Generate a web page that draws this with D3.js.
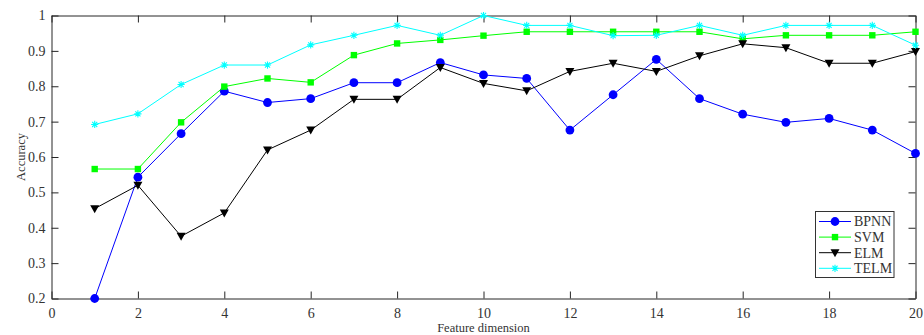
<!DOCTYPE html>
<meta charset="utf-8">
<script src="https://d3js.org/d3.v7.min.js"></script>
<style>
body { margin: 0; background: #fff; }
</style>
<div id="chart"></div>
<script>

// feature dimension
var dims = d3.range(1, 21);

// accuracy per model
var bpnn = [0.200, 0.543, 0.666, 0.786, 0.754, 0.765, 0.810, 0.810, 0.867, 0.832,
            0.822, 0.676, 0.776, 0.876, 0.765, 0.721, 0.698, 0.709, 0.676, 0.610];
var svm  = [0.566, 0.566, 0.698, 0.799, 0.822, 0.811, 0.888, 0.921, 0.931, 0.943,
            0.954, 0.954, 0.954, 0.954, 0.954, 0.934, 0.944, 0.944, 0.944, 0.954];
var elm  = [0.454, 0.520, 0.376, 0.442, 0.620, 0.676, 0.763, 0.763, 0.853, 0.808,
            0.787, 0.842, 0.865, 0.842, 0.886, 0.920, 0.909, 0.865, 0.865, 0.898];
var telm = [0.692, 0.722, 0.805, 0.860, 0.860, 0.917, 0.944, 0.972, 0.944, 1.000,
            0.972, 0.972, 0.943, 0.944, 0.972, 0.944, 0.972, 0.972, 0.972, 0.916];

var xTicks = [0, 2, 4, 6, 8, 10, 12, 14, 16, 18, 20];
var yTicks = [0.2, 0.3, 0.4, 0.5, 0.6, 0.7, 0.8, 0.9, 1];

var series = [
  {name: "BPNN", values: bpnn, color: "#0000ff", marker: "circle"},
  {name: "SVM",  values: svm,  color: "#00ff00", marker: "square"},
  {name: "ELM",  values: elm,  color: "#000000", marker: "triangle"},
  {name: "TELM", values: telm, color: "#00ffff", marker: "star"}
];

var FONT = "'Liberation Serif', 'DejaVu Serif', serif";

var W = 924, H = 335;
var margin = {top: 15.5, right: 8.5, bottom: 36.5, left: 51.5},
    width = W - margin.left - margin.right,
    height = H - margin.top - margin.bottom;

var svg = d3.select("#chart").append("svg")
    .attr("width", W)
    .attr("height", H)
  .append("g")
    .attr("transform", "translate(" + margin.left + "," + margin.top + ")");

var x = d3.scaleLinear().domain([0, 20]).range([0, width]);
var y = d3.scaleLinear().domain([0.2, 1]).range([height, 0]);

var fmt = function(d) { return d === 1 ? "1" : d3.format(".1f")(d); };

// axes, matlab style: ticks inward, box on
function styleAxis(g) {
  g.attr("font-family", null).attr("font-size", null);
  g.select(".domain").attr("stroke", "#262626");
  g.selectAll(".tick line").attr("stroke", "#262626");
  g.selectAll(".tick text")
      .style("font-family", FONT)
      .style("font-size", "14px")
      .attr("fill", "#333");
}
svg.append("g")
    .attr("transform", "translate(0," + height + ")")
    .call(d3.axisBottom(x).tickValues(xTicks).tickSizeInner(-7).tickSizeOuter(0).tickPadding(8))
    .call(styleAxis)
    .selectAll(".tick text").attr("dy", "0.85em");
svg.append("g")
    .call(d3.axisTop(x).tickValues(xTicks).tickSizeInner(-7).tickSizeOuter(0).tickFormat(""))
    .call(styleAxis);
svg.append("g")
    .call(d3.axisLeft(y).tickValues(yTicks).tickSizeInner(-7).tickSizeOuter(0).tickPadding(6).tickFormat(fmt))
    .call(styleAxis);
svg.append("g")
    .attr("transform", "translate(" + width + ",0)")
    .call(d3.axisRight(y).tickValues(yTicks).tickSizeInner(-7).tickSizeOuter(0).tickFormat(""))
    .call(styleAxis);

// axis labels
svg.append("text")
    .attr("x", width / 2)
    .attr("y", height + 33)
    .attr("text-anchor", "middle")
    .attr("fill", "#333")
    .style("font-family", FONT)
    .style("font-size", "12.5px")
    .text("Feature dimension");
svg.append("text")
    .attr("transform", "translate(-27," + (height / 2) + ") rotate(-90)")
    .attr("text-anchor", "middle")
    .attr("fill", "#333")
    .style("font-family", FONT)
    .style("font-size", "12.5px")
    .text("Accuracy");

// marker shapes
function drawMarker(g, type, color) {
  if (type === "circle") {
    g.append("circle").attr("r", 4.4).attr("fill", color);
  } else if (type === "square") {
    g.append("rect").attr("x", -3.2).attr("y", -3.2).attr("width", 6.4).attr("height", 6.4).attr("fill", color);
  } else if (type === "triangle") {
    g.append("path").attr("d", "M-4.5,-3.5L4.5,-3.5L0,4.5Z").attr("fill", color);
  } else {
    var r = 3.6, p = "";
    for (var a = 0; a < 4; a++) {
      var ang = a * Math.PI / 4;
      p += "M" + (-r * Math.cos(ang)) + "," + (-r * Math.sin(ang)) + "L" + (r * Math.cos(ang)) + "," + (r * Math.sin(ang));
    }
    g.append("path").attr("d", p).attr("stroke", color).attr("stroke-width", 1.1).attr("fill", "none");
  }
}

var line = d3.line()
    .x(function(d, i) { return x(dims[i]); })
    .y(function(d) { return y(d); });

series.forEach(function(s) {
  svg.append("path")
      .datum(s.values)
      .attr("fill", "none")
      .attr("stroke", s.color)
      .attr("stroke-width", 1)
      .attr("d", line);
  s.values.forEach(function(v, i) {
    var g = svg.append("g").attr("transform", "translate(" + x(dims[i]) + "," + y(v) + ")");
    drawMarker(g, s.marker, s.color);
  });
});

// legend
var lg = svg.append("g").attr("transform", "translate(" + (815.5 - margin.left) + "," + (211.5 - margin.top) + ")");
lg.append("rect")
    .attr("width", 78.5)
    .attr("height", 66)
    .attr("fill", "#fff")
    .attr("stroke", "#333")
    .attr("stroke-width", 1);
series.forEach(function(s, i) {
  var row = lg.append("g").attr("transform", "translate(0," + (10 + i * 15.6) + ")");
  row.append("line").attr("x1", 3.5).attr("x2", 35.5).attr("stroke", s.color).attr("stroke-width", 1);
  drawMarker(row.append("g").attr("transform", "translate(19.5,0)"), s.marker, s.color);
  row.append("text")
      .attr("x", 38.5)
      .attr("dy", "0.35em")
      .attr("fill", "#333")
      .style("font-family", FONT)
      .style("font-size", "14px")
      .text(s.name);
});
</script>
